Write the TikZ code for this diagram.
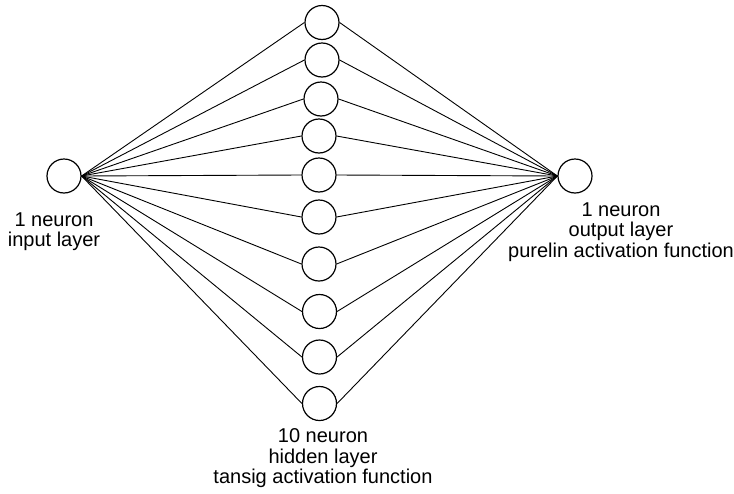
\documentclass[tikz,border=0pt]{standalone}
\usepackage{fontspec}
\setmainfont{Liberation Sans}
\usetikzlibrary{positioning}
\tikzset{
  every picture/.style={x=0.5pt, y=-0.5pt, line width=0.5pt},
  neuron/.style={draw, circle, minimum size=17pt, inner sep=0pt, line width=0.6pt},
  link/.style={draw, line width=0.45pt},
  caption/.style={align=center, inner sep=0pt, anchor=north, font=\fontsize{10}{10.3}\selectfont},
}
\begin{document}
\begin{tikzpicture}
  \useasboundingbox (0,0) rectangle (734,493);
  % input and output neuron
  \node[neuron] (in) at (64,176) {};
  \node[neuron] (out) at (575,176) {};
  % hidden layer, from top to bottom
  \foreach \x/\y [count=\i] in {322/22.5, 322/60, 321/99, 319/136, 319/175, 319/217, 319/264, 319.5/311.5, 319.5/357, 319.5/403.5}
    \node[neuron] (h\i) at (\x,\y) {};
  \foreach \i in {1,...,10} {
    \draw[link] (in.east) -- (h\i.west);
    \draw[link] (h\i.east) -- (out.west);
  }
  \node[caption] (in-label) at (54,212) {1 neuron\\input layer};
  \node[caption] (out-label) at (621,202) {1 neuron\\output layer\\purelin activation function};
  \node[caption] (hid-label) at (323,428) {10 neuron\\hidden layer\\tansig activation function};
\end{tikzpicture}
\end{document}
